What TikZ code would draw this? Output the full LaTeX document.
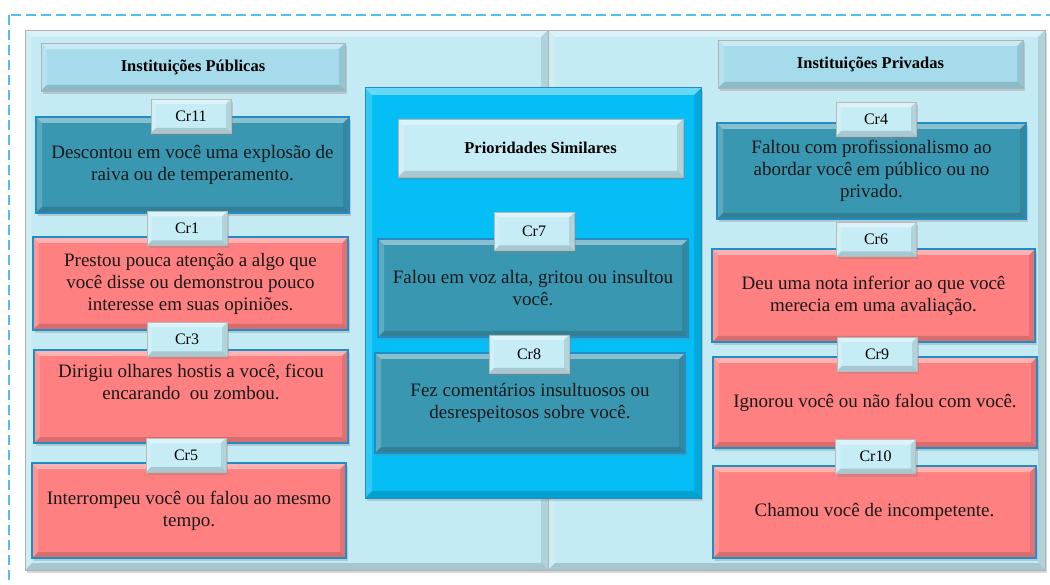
\documentclass[tikz,border=0pt]{standalone}
\usepackage{fontspec}
\setmainfont{Liberation Serif}
\usetikzlibrary{shadows}
\definecolor{panelbg}{RGB}{196,234,244}
\definecolor{headfill}{RGB}{166,219,235}
\definecolor{tabfill}{RGB}{198,236,246}
\definecolor{crteal}{RGB}{58,151,177}
\definecolor{crsalmon}{RGB}{255,128,128}
\definecolor{midblue}{RGB}{4,190,245}
\definecolor{edgeblue}{RGB}{34,140,196}
\definecolor{dashblue}{RGB}{80,190,240}

\tikzset{
  bevel/.style={path picture={
      \path (path picture bounding box.north west) coordinate (bnw)
            (path picture bounding box.north east) coordinate (bne)
            (path picture bounding box.south west) coordinate (bsw)
            (path picture bounding box.south east) coordinate (bse);
      \fill[white,opacity=.4] (bnw) -- (bne) -- ([shift={(-#1,-#1)}]bne) -- ([shift={(#1,-#1)}]bnw) -- cycle;
      \fill[white,opacity=.18] (bnw) -- (bsw) -- ([shift={(#1,#1)}]bsw) -- ([shift={(#1,-#1)}]bnw) -- cycle;
      \fill[black,opacity=.15] (bsw) -- (bse) -- ([shift={(-#1,#1)}]bse) -- ([shift={(#1,#1)}]bsw) -- cycle;
      \fill[black,opacity=.1] (bne) -- (bse) -- ([shift={(-#1,#1)}]bse) -- ([shift={(-#1,-#1)}]bne) -- cycle;
  }},
  bevel/.default=5pt,
  shade/.style={drop shadow={opacity=.3,shadow xshift=2pt,shadow yshift=-3pt}},
  panel/.style={fill=panelbg,draw=gray!60,line width=.8pt,bevel=7pt,shade,inner sep=0pt},
  headbox/.style={fill=headfill,draw=gray!60,line width=.6pt,bevel=6pt,shade,inner sep=0pt,
    font=\fontsize{16.5}{20}\selectfont\bfseries},
  crtab/.style={fill=tabfill,draw=gray!55,line width=.6pt,bevel=5pt,shade,inner sep=0pt,
    minimum width=80pt,minimum height=34pt,font=\fontsize{16}{18}\selectfont},
  crbox/.style={draw=edgeblue,line width=1.2pt,bevel=6pt,shade,inner sep=0pt,align=center,
    text=black!90,font=\fontsize{19}{22}\selectfont},
  crdark/.style={crbox,fill=crteal},
  crlight/.style={crbox,fill=crsalmon},
}

\begin{document}
\begin{tikzpicture}[x=1pt,y=-1pt]
	\useasboundingbox (0,0) rectangle (1050,585);
	\fill[white] (0,0) rectangle (1050,585);
	\draw[dashblue,line width=2.5pt,dash pattern=on 10pt off 5pt] (9,15) rectangle (1070,610);

	% painéis de fundo
	\node[panel,minimum width=523pt,minimum height=540pt] (leftpanel) at (286.5,300) {};
	\node[panel,minimum width=497pt,minimum height=540pt] (rightpanel) at (796.5,300) {};

	% instituições públicas
	\node[headbox,minimum width=304pt,minimum height=48pt] (pubhead) at (193,67) {Instituições Públicas};
	\node[crdark,minimum width=313pt,minimum height=96pt] (box11) at (192.5,165) {Descontou em você uma explosão de\\raiva ou de temperamento.};
	\node[crlight,minimum width=315pt,minimum height=93pt] (box1) at (190.5,283.5) {Prestou pouca atenção a algo que\\você disse ou demonstrou pouco\\interesse em suas opiniões.};
	\node[crlight,minimum width=314pt,minimum height=93pt] (box3) at (191,396.5) {Dirigiu olhares hostis a você, ficou\\encarando\ \ ou zombou.\\\strut};
	\node[crlight,minimum width=314pt,minimum height=95pt] (box5) at (189,510.5) {Interrompeu você ou falou ao mesmo\\tempo.};

	% prioridades similares
	\node[fill=midblue,draw=edgeblue,line width=1pt,bevel=7pt,shade,minimum width=336pt,minimum height=410pt] (midframe) at (533,293) {};
	\node[headbox,fill=tabfill,minimum width=285pt,minimum height=58pt] (simhead) at (540.5,148) {Prioridades Similares};
	\node[crdark,minimum width=310pt,minimum height=98pt] (box7) at (533,288) {Falou em voz alta, gritou ou insultou\\você.};
	\node[crdark,minimum width=310pt,minimum height=100pt] (box8) at (530,403) {Fez comentários insultuosos ou\\desrespeitosos sobre você.};

	% instituições privadas
	\node[headbox,minimum width=305pt,minimum height=48pt] (privhead) at (870.5,64) {Instituições Privadas};
	\node[crdark,minimum width=309pt,minimum height=96pt] (box4) at (871.5,171) {Faltou com profissionalismo ao\\abordar você em público ou no\\privado.};
	\node[crlight,minimum width=323pt,minimum height=93pt] (box6) at (873.5,295.5) {Deu uma nota inferior ao que você\\merecia em uma avaliação.};
	\node[crlight,minimum width=324pt,minimum height=91pt] (box9) at (875,402.5) {Ignorou você ou não falou com você.};
	\node[crlight,minimum width=323pt,minimum height=92pt] (box10) at (874.5,512) {Chamou você de incompetente.};

	% etiquetas
	\node[crtab] (cr11) at (191,116) {Cr11};
	\node[crtab] (cr1) at (187,228.5) {Cr1};
	\node[crtab] (cr3) at (187,339.5) {Cr3};
	\node[crtab] (cr5) at (186,455) {Cr5};
	\node[crtab,minimum height=38pt] (cr7) at (534,231.5) {Cr7};
	\node[crtab,minimum height=38pt] (cr8) at (529,354) {Cr8};
	\node[crtab] (cr4) at (876,119) {Cr4};
	\node[crtab] (cr6) at (876,239.5) {Cr6};
	\node[crtab] (cr9) at (877,354) {Cr9};
	\node[crtab] (cr10) at (875.5,456.5) {Cr10};
\end{tikzpicture}
\end{document}
